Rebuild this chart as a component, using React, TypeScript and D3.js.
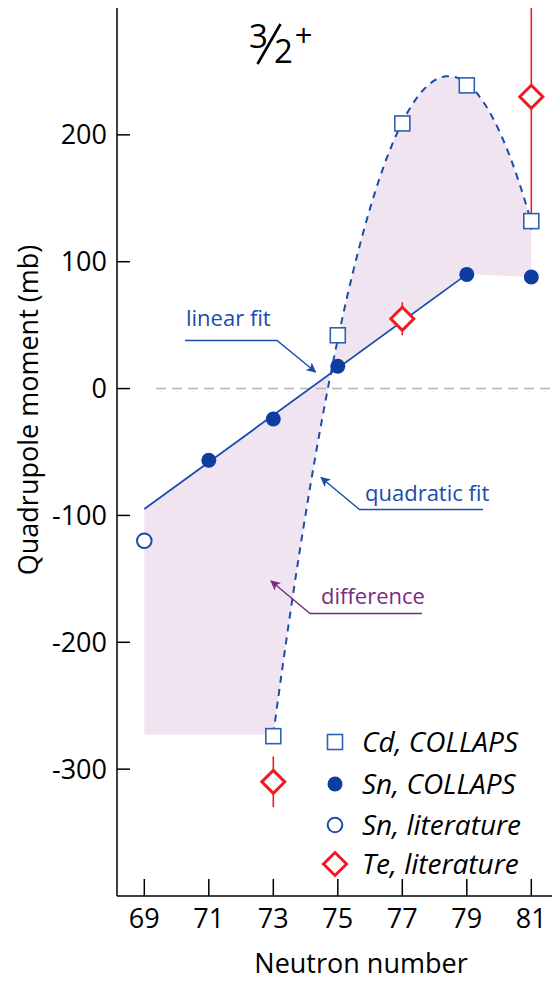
import React from "react";
import * as d3 from "d3";

// Quadrupole moments (mb) of 3/2+ states versus neutron number
const cdN = [73, 75, 77, 79, 81];
const cdQ = [-274, 42, 209, 239, 132];

const snN = [71, 73, 75, 79, 81];
const snQ = [-56.5, -24, 17.6, 90, 88];

const snLitN = [69];
const snLitQ = [-120];

const teN = [73, 77, 81];
const teQ = [-310, 55, 230];
const teErr = [20, 13, 105];

const xTicks = [69, 71, 73, 75, 77, 79, 81];
const yTicks = [-300, -200, -100, 0, 100, 200];

const legendLabels = ["Cd, COLLAPS", "Sn, COLLAPS", "Sn, literature", "Te, literature"];

const W = 552;
const H = 981;
const LEFT = 117;
const BOTTOM = 896;
const TOP = 8;

const BLUE = "#0c3d9f";
const LINE_BLUE = "#1a4cab";
const SQ_BLUE = "#2f5fb6";
const RED = "#ee1c22";
const PURPLE = "#7a2a80";
const FILL = "#f0e4f1";
const FONT = "'Open Sans', 'Noto Sans', sans-serif";

// least-squares polynomial fit, centred at x0 for conditioning
function polyFit(xs: number[], ys: number[], deg: number, x0: number) {
  const n = deg + 1;
  const A: number[][] = Array.from({ length: n }, () => new Array(n + 1).fill(0));
  xs.forEach((xv, k) => {
    const u = xv - x0;
    for (let i = 0; i < n; i++) {
      for (let j = 0; j < n; j++) A[i][j] += Math.pow(u, i + j);
      A[i][n] += Math.pow(u, i) * ys[k];
    }
  });
  for (let i = 0; i < n; i++) {
    let p = i;
    for (let r = i + 1; r < n; r++) if (Math.abs(A[r][i]) > Math.abs(A[p][i])) p = r;
    [A[i], A[p]] = [A[p], A[i]];
    for (let r = 0; r < n; r++) {
      if (r === i) continue;
      const f = A[r][i] / A[i][i];
      for (let c = i; c <= n; c++) A[r][c] -= f * A[i][c];
    }
  }
  const coef = A.map((row, i) => row[n] / row[i]);
  return (xv: number) => coef.reduce((s, c, i) => s + c * Math.pow(xv - x0, i), 0);
}

// linear fit over the Sn points N = 71–79, quadratic fit over the Cd points
const linFitN = snN.filter((n) => n <= 79);
const linFitQ = snQ.filter((_, i) => snN[i] <= 79);
const lin = polyFit(linFitN, linFitQ, 1, 75);
const quad = polyFit(cdN, cdQ, 2, 77);

export default function App() {
  const x = d3.scaleLinear().domain([69, 81]).range([144.3, 531.3]);
  const y = d3.scaleLinear().domain([-400, 300]).range([BOTTOM, TOP]);

  const linStart = 69;
  const linEnd = 79;
  const quadPts = d3.range(cdN[0], cdN[cdN.length - 1] + 1e-9, 0.05);

  const line = d3
    .line<[number, number]>()
    .x((d) => x(d[0]))
    .y((d) => y(d[1]));

  const linPath = line([
    [linStart, lin(linStart)],
    [linEnd, lin(linEnd)],
  ]);
  const quadPath = line(quadPts.map((n) => [n, quad(n)] as [number, number]));

  // shaded difference between the two fits
  const sn81 = snQ[snN.indexOf(81)];
  const diffPts: [number, number][] = [
    [linStart, lin(linStart)],
    [linEnd, lin(linEnd)],
    [81, sn81],
    ...quadPts
      .slice()
      .reverse()
      .map((n) => [n, quad(n)] as [number, number]),
    [linStart, quad(cdN[0])],
  ];
  const diffPath = line(diffPts) + "Z";

  const legendY = [742, 784, 825, 864];
  const legendX = 335;

  const square = (cx: number, cy: number, key: string) => (
    <rect key={key} x={cx - 7.5} y={cy - 7.5} width={15} height={15} fill="#fff" stroke={SQ_BLUE} strokeWidth={1.6} />
  );
  const diamond = (cx: number, cy: number, key: string) => (
    <path
      key={key}
      d={`M${cx},${cy - 11.5}L${cx + 11.5},${cy}L${cx},${cy + 11.5}L${cx - 11.5},${cy}Z`}
      fill="#fff"
      stroke={RED}
      strokeWidth={3}
    />
  );

  return (
    <svg
      width={W}
      height={H}
      style={{ position: "absolute", left: 0, top: 0, background: "#fff" }}
      fontFamily={FONT}
    >
      <defs>
        <marker id="arrowBlue" viewBox="0 0 10 10" refX="9" refY="5" markerWidth="10" markerHeight="10" markerUnits="userSpaceOnUse" orient="auto">
          <path d="M0,0L10,5L0,10L2.5,5Z" fill={LINE_BLUE} />
        </marker>
        <marker id="arrowPurple" viewBox="0 0 10 10" refX="9" refY="5" markerWidth="10" markerHeight="10" markerUnits="userSpaceOnUse" orient="auto">
          <path d="M0,0L10,5L0,10L2.5,5Z" fill={PURPLE} />
        </marker>
        <clipPath id="plotClip">
          <rect x={LEFT} y={TOP} width={W - LEFT} height={BOTTOM - TOP} />
        </clipPath>
      </defs>

      {/* difference area */}
      <path d={diffPath} fill={FILL} stroke="none" />

      {/* zero reference */}
      <line x1={156} x2={W} y1={y(0)} y2={y(0)} stroke="#b4b4b4" strokeWidth={1.5} strokeDasharray="10,6" />

      {/* fits */}
      <path d={linPath ?? ""} fill="none" stroke={LINE_BLUE} strokeWidth={1.8} />
      <path d={quadPath ?? ""} fill="none" stroke={LINE_BLUE} strokeWidth={2} strokeDasharray="7,6" />

      {/* Te error bars and markers */}
      <g clipPath="url(#plotClip)">
        {teN.map((n, i) => (
          <line key={`te-e${i}`} x1={x(n)} x2={x(n)} y1={y(teQ[i] - teErr[i])} y2={y(teQ[i] + teErr[i])} stroke={RED} strokeWidth={1.6} />
        ))}
      </g>
      {teN.map((n, i) => diamond(x(n), y(teQ[i]), `te${i}`))}

      {/* Cd */}
      {cdN.map((n, i) => square(x(n), y(cdQ[i]), `cd${i}`))}

      {/* Sn */}
      {snN.map((n, i) => (
        <circle key={`sn${i}`} cx={x(n)} cy={y(snQ[i])} r={7.5} fill={BLUE} />
      ))}
      {snLitN.map((n, i) => (
        <circle key={`snl${i}`} cx={x(n)} cy={y(snLitQ[i])} r={7.3} fill="#fff" stroke={LINE_BLUE} strokeWidth={2} />
      ))}

      {/* axes */}
      <line x1={LEFT} x2={LEFT} y1={TOP} y2={BOTTOM} stroke="#000" strokeWidth={1.5} />
      <line x1={LEFT} x2={W} y1={BOTTOM} y2={BOTTOM} stroke="#000" strokeWidth={1.5} />
      {yTicks.map((t) => (
        <g key={`yt${t}`}>
          <line x1={LEFT} x2={LEFT + 13} y1={y(t)} y2={y(t)} stroke="#000" strokeWidth={1.5} />
          <text x={107} y={y(t) + 9.5} textAnchor="end" fontSize={27} fill="#000">
            {t}
          </text>
        </g>
      ))}
      {xTicks.map((t) => (
        <g key={`xt${t}`}>
          <line x1={x(t)} x2={x(t)} y1={BOTTOM} y2={BOTTOM - 17} stroke="#000" strokeWidth={1.5} />
          <text x={x(t)} y={928} textAnchor="middle" fontSize={27} fill="#000">
            {t}
          </text>
        </g>
      ))}
      <text x={361} y={973} textAnchor="middle" fontSize={27} fill="#000">
        Neutron number
      </text>
      <text transform={`translate(38,410) rotate(-90)`} textAnchor="middle" fontSize={27} fill="#000">
        Quadrupole moment (mb)
      </text>

      {/* spin-parity label */}
      <text x={249} y={48} fontSize={33} fill="#000">3</text>
      <line x1={257.5} y1={64} x2={280.5} y2={24} stroke="#000" strokeWidth={2.6} />
      <text x={274} y={63} fontSize={33} fill="#000">2</text>
      <text x={303.5} y={47} textAnchor="middle" fontSize={31} fill="#000">+</text>

      {/* annotations */}
      <text x={186} y={326} fontSize={22} fill={LINE_BLUE}>linear fit</text>
      <polyline points="185,340.5 277,340.5 315.5,372" fill="none" stroke={LINE_BLUE} strokeWidth={1.4} markerEnd="url(#arrowBlue)" />

      <text x={365} y={501} fontSize={22} fill={LINE_BLUE}>quadratic fit</text>
      <polyline points="483,509.5 359.5,509.5 321,477.5" fill="none" stroke={LINE_BLUE} strokeWidth={1.4} markerEnd="url(#arrowBlue)" />

      <text x={321} y={604} fontSize={22} fill={PURPLE}>difference</text>
      <polyline points="422,613.5 310,613.5 271,581" fill="none" stroke={PURPLE} strokeWidth={1.4} markerEnd="url(#arrowPurple)" />

      {/* legend */}
      {square(legendX, legendY[0], "lg0")}
      <circle cx={legendX} cy={legendY[1]} r={7.5} fill={BLUE} />
      <circle cx={legendX} cy={legendY[2]} r={7.3} fill="#fff" stroke={LINE_BLUE} strokeWidth={2} />
      {diamond(legendX, legendY[3], "lg3")}
      {legendLabels.map((l, i) => (
        <text key={`lt${i}`} x={362} y={legendY[i] + 10} fontSize={28} fontStyle="italic" fill="#000">
          {l}
        </text>
      ))}
    </svg>
  );
}
